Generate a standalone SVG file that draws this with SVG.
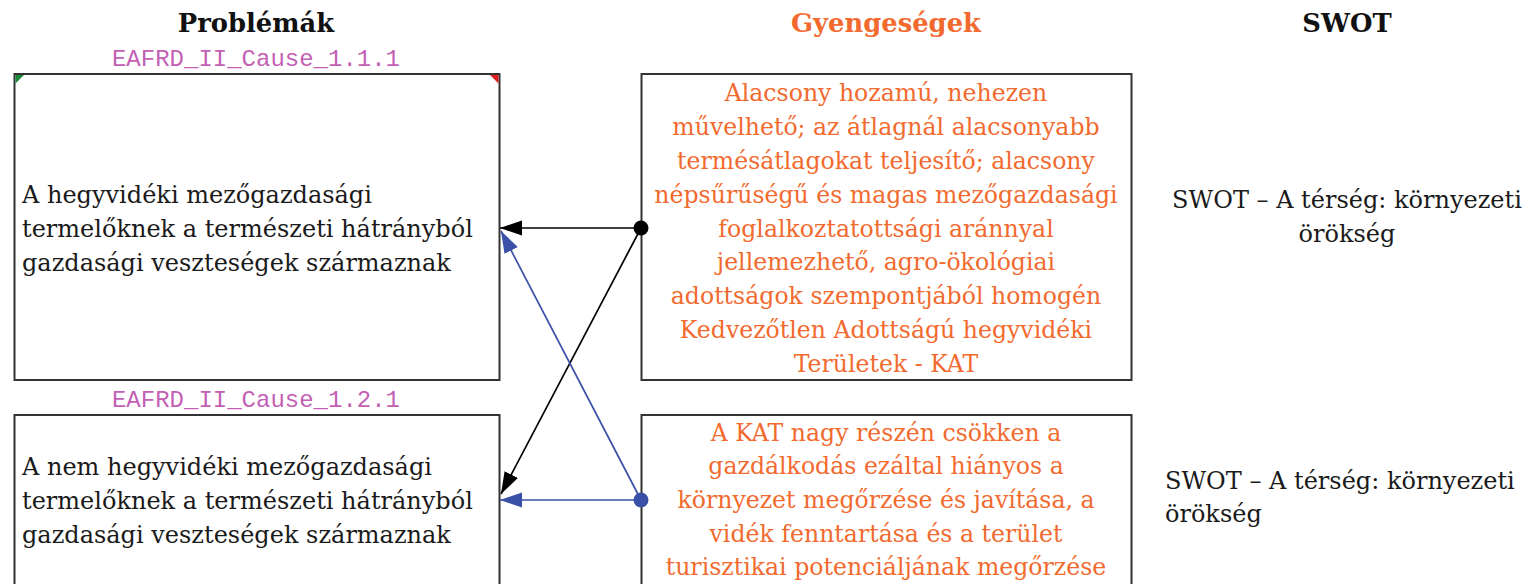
<svg xmlns="http://www.w3.org/2000/svg" width="1530" height="584" viewBox="0 0 1530 584">
<defs>
<style>
.t{font-family:"DejaVu Serif","Liberation Serif",serif;font-size:24px;fill:#1a1a1a}
.o{font-family:"DejaVu Serif","Liberation Serif",serif;font-size:23.6px;fill:#f26a2e;text-anchor:middle}
.h{font-family:"DejaVu Serif","Liberation Serif",serif;font-size:25.8px;font-weight:bold;text-anchor:middle}
.id{font-family:"Liberation Mono","DejaVu Sans Mono",monospace;font-size:24px;fill:#c35fb4;text-anchor:middle}
.box{fill:#fff;stroke:#333;stroke-width:2}
.k{stroke:#000;stroke-width:1.7;fill:none}
.b{stroke:#3b51a8;stroke-width:1.7;fill:none}
</style>
<marker id="ak" markerUnits="userSpaceOnUse" markerWidth="24" markerHeight="16" refX="22" refY="7.5" orient="auto"><path d="M0,0 L22,7.5 L0,15 z" fill="#000"/></marker>
<marker id="ab" markerUnits="userSpaceOnUse" markerWidth="24" markerHeight="16" refX="22" refY="7.5" orient="auto"><path d="M0,0 L22,7.5 L0,15 z" fill="#3b51a8"/></marker>
</defs>
<rect width="1530" height="584" fill="#fff"/>
<g id="headers">
<text class="h" x="256" y="32" fill="#111">Problémák</text>
<text class="h" x="886" y="32" fill="#f26a2e">Gyengeségek</text>
<text class="h" x="1347" y="32" fill="#111">SWOT</text>
</g>
<g id="cause1">
<text class="id" x="256" y="66">EAFRD_II_Cause_1.1.1</text>
<rect class="box" x="14.5" y="74" width="485" height="306"/>
<polygon points="15.5,75 24,75 15.5,83.5" fill="#1a8a3a"/>
<polygon points="498.5,75 490,75 498.5,83.5" fill="#e02020"/>
<text class="t" x="22" y="203">A hegyvidéki mezőgazdasági</text>
<text class="t" x="22" y="237">termelőknek a természeti hátrányból</text>
<text class="t" x="22" y="271">gazdasági veszteségek származnak</text>
</g>
<g id="cause2">
<text class="id" x="256" y="407">EAFRD_II_Cause_1.2.1</text>
<rect class="box" x="14.5" y="415" width="485" height="200"/>
<text class="t" x="22" y="475">A nem hegyvidéki mezőgazdasági</text>
<text class="t" x="22" y="509">termelőknek a természeti hátrányból</text>
<text class="t" x="22" y="543">gazdasági veszteségek származnak</text>
</g>
<g id="weak1">
<rect class="box" x="641.5" y="74" width="490" height="306"/>
<text class="o" x="886" y="101">Alacsony hozamú, nehezen</text>
<text class="o" x="886" y="135">művelhető; az átlagnál alacsonyabb</text>
<text class="o" x="886" y="169">termésátlagokat teljesítő; alacsony</text>
<text class="o" x="886" y="203">népsűrűségű és magas mezőgazdasági</text>
<text class="o" x="886" y="237">foglalkoztatottsági aránnyal</text>
<text class="o" x="886" y="270">jellemezhető, agro-ökológiai</text>
<text class="o" x="886" y="304">adottságok szempontjából homogén</text>
<text class="o" x="886" y="338">Kedvezőtlen Adottságú hegyvidéki</text>
<text class="o" x="886" y="372">Területek - KAT</text>
</g>
<g id="weak2">
<rect class="box" x="641.5" y="415" width="490" height="200"/>
<text class="o" x="886" y="441">A KAT nagy részén csökken a</text>
<text class="o" x="886" y="474">gazdálkodás ezáltal hiányos a</text>
<text class="o" x="886" y="508">környezet megőrzése és javítása, a</text>
<text class="o" x="886" y="542">vidék fenntartása és a terület</text>
<text class="o" x="886" y="575">turisztikai potenciáljának megőrzése</text>
</g>
<g id="swot1">
<text class="t" x="1347" y="208" text-anchor="middle">SWOT – A térség: környezeti</text>
<text class="t" x="1347" y="242" text-anchor="middle">örökség</text>
</g>
<g id="swot2">
<text class="t" x="1165" y="489">SWOT – A térség: környezeti</text>
<text class="t" x="1165" y="522">örökség</text>
</g>
<g id="connectors">
<line class="k" x1="641" y1="228" x2="500" y2="228" marker-end="url(#ak)"/>
<line class="k" x1="641" y1="228" x2="501" y2="494" marker-end="url(#ak)"/>
<line class="b" x1="641" y1="500" x2="500" y2="500" marker-end="url(#ab)"/>
<line class="b" x1="641" y1="500" x2="501" y2="231" marker-end="url(#ab)"/>
<circle cx="641" cy="228" r="7.5" fill="#000"/>
<circle cx="641" cy="500" r="7.5" fill="#3b51a8"/>
</g>
</svg>
